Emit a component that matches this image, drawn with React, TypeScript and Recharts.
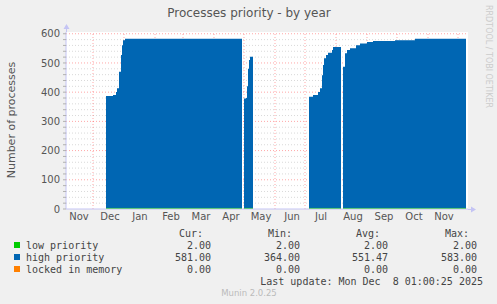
import { AreaChart, Area, XAxis, YAxis, CartesianGrid, ReferenceLine } from 'recharts'

// x is days since Nov 4 2024 (left edge of the graph), one point per change in the value
const DAYS = [
  40, 47, 50, 51, 53, 55, 56, 57, 59, 176,
  177,
  178, 180, 181, 182, 183, 184, 187,
  188,
  243, 247, 252, 254, 256, 257, 258, 260, 262, 266, 267, 275,
  276,
  277, 279, 281, 284, 290, 294, 301, 307, 329, 349, 400,
]
const HIGH_PRIORITY = [
  387, 390, 401, 413, 470, 527, 561, 578, 583, 583,
  null,
  378, 380, 420, 480, 510, 521, 523,
  null,
  384, 390, 401, 413, 458, 493, 516, 527, 535, 544, 555, 556,
  null,
  487, 533, 544, 550, 561, 567, 572, 575, 578, 583, 581,
]
const LOW_PRIORITY = [
  2, 2, 2, 2, 2, 2, 2, 2, 2, 2,
  null,
  2, 2, 2, 2, 2, 2, 2,
  null,
  2, 2, 2, 2, 2, 2, 2, 2, 2, 2, 2, 2,
  null,
  2, 2, 2, 2, 2, 2, 2, 2, 2, 2, 2,
]

const MONTH_STARTS = [27, 58, 89, 117, 148, 178, 209, 239, 270, 301, 331, 362, 392]
const LABEL_DAYS = [13, 44, 74, 105, 135, 165, 195, 226, 255, 287, 318, 348, 378]
const MONTH_LABELS = ['Nov', 'Dec', 'Jan', 'Feb', 'Mar', 'Apr', 'May', 'Jun', 'Jul', 'Aug', 'Sep', 'Oct', 'Nov']

const Y_TICKS = [0, 20, 40, 60, 80, 100, 120, 140, 160, 180, 200, 220, 240, 260, 280, 300, 320, 340, 360, 380, 400, 420, 440, 460, 480, 500, 520, 540, 560, 580, 600]
const MAJOR_Y = [100, 200, 300, 400, 500, 600]

const SERIES_NAMES = ['low priority', 'high priority', 'locked in memory']
const SERIES_COLORS = ['#00cc00', '#0066b3', '#ff8000']
const CUR = ['2.00', '581.00', '0.00']
const MIN = ['2.00', '364.00', '0.00']
const AVG = ['2.00', '551.47', '0.00']
const MAX = ['2.00', '583.00', '0.00']

const data = DAYS.map((day, i) => ({ day, high: HIGH_PRIORITY[i], low: LOW_PRIORITY[i] }))

const AXIS = '#c4c4f4'
const TEXT = '#555'
const MONO = '"DejaVu Sans Mono", monospace'
// keep the dotted grid under the filled areas
const GRID_Z = 50

export default function App() {
  const minorY = Y_TICKS.filter((v) => v > 0 && v % 100 !== 0)

  return (
    <div
      style={{
        position: 'absolute',
        left: 0,
        top: 0,
        width: 497,
        height: 304,
        background: '#f0f0f0',
        fontFamily: '"DejaVu Sans", sans-serif',
      }}
    >
      <AreaChart width={497} height={304} data={data} margin={{ top: 32, right: 29, left: 0, bottom: 65 }}>
        <CartesianGrid horizontal={false} vertical={false} fill="#ffffff" stroke="none" />
        <XAxis
          type="number"
          dataKey="day"
          domain={[0, 402]}
          allowDataOverflow
          ticks={LABEL_DAYS}
          tickFormatter={(_v: number, i: number) => MONTH_LABELS[i]}
          interval={0}
          height={30}
          tickLine={false}
          tickSize={2}
          tickMargin={2}
          axisLine={{ stroke: AXIS }}
          tick={{ fill: TEXT, fontSize: 10 }}
        />
        <YAxis
          type="number"
          domain={[0, 606]}
          allowDataOverflow
          ticks={Y_TICKS}
          interval={0}
          tickFormatter={(v: number) => (v % 100 === 0 ? String(v) : '')}
          width={66}
          tickSize={3}
          tickMargin={3}
          tickLine={{ stroke: '#b0b0b0' }}
          axisLine={{ stroke: AXIS }}
          tick={{ fill: TEXT, fontSize: 10 }}
        />
        {minorY.map((v) => (
          <ReferenceLine key={'m' + v} y={v} zIndex={GRID_Z} stroke="#808080" strokeOpacity={0.3} strokeDasharray="1 2" />
        ))}
        {MAJOR_Y.map((v) => (
          <ReferenceLine key={'M' + v} y={v} zIndex={GRID_Z} stroke="#ff0000" strokeOpacity={0.35} strokeDasharray="1 2" />
        ))}
        {MONTH_STARTS.map((d) => (
          <ReferenceLine key={'d' + d} x={d} zIndex={GRID_Z} stroke="#ff0000" strokeOpacity={0.35} strokeDasharray="1 2" />
        ))}
        <Area
          type="stepAfter"
          dataKey="high"
          stroke="none"
          fill="#0066b3"
          fillOpacity={1}
          dot={false}
          activeDot={false}
          isAnimationActive={false}
        />
        <Area
          type="stepAfter"
          dataKey="low"
          stroke="#00cc00"
          strokeWidth={1}
          fill="#00cc00"
          fillOpacity={1}
          dot={false}
          activeDot={false}
          isAnimationActive={false}
        />
      </AreaChart>

      <svg width={497} height={304} style={{ position: 'absolute', left: 0, top: 0, pointerEvents: 'none' }}>
        {/* axis arrows */}
        <line x1={66.5} y1={32} x2={66.5} y2={26} stroke={AXIS} />
        <polygon points="63.5,29 69.5,29 66.5,24" fill={AXIS} />
        <line x1={468} y1={209.5} x2={472} y2={209.5} stroke={AXIS} />
        <polygon points="471,206.5 471,212.5 476,209.5" fill={AXIS} />

        <text x={249} y={17} textAnchor="middle" fontSize={12} fill={TEXT}>
          Processes priority - by year
        </text>
        <text x={15} y={120} textAnchor="middle" fontSize={11} fill={TEXT} transform="rotate(-90 15 120)">
          Number of processes
        </text>
        <text x={486} y={5} fontSize={8} fill="#cccccc" transform="rotate(90 486 5)">
          RRDTOOL / TOBI OETIKER
        </text>

        <g fontFamily={MONO} fontSize={10} fill="#444">
          <text x={203} y={237} textAnchor="end">Cur:</text>
          <text x={292} y={237} textAnchor="end">Min:</text>
          <text x={380} y={237} textAnchor="end">Avg:</text>
          <text x={469} y={237} textAnchor="end">Max:</text>
          {SERIES_NAMES.map((name, i) => {
            const y = 248.5 + i * 12
            return (
              <g key={name}>
                <rect x={14} y={y - 6.5} width={6} height={6} fill={SERIES_COLORS[i]} />
                <text x={26} y={y}>{name}</text>
                <text x={211} y={y} textAnchor="end">{CUR[i]}</text>
                <text x={300} y={y} textAnchor="end">{MIN[i]}</text>
                <text x={388} y={y} textAnchor="end">{AVG[i]}</text>
                <text x={477} y={y} textAnchor="end">{MAX[i]}</text>
              </g>
            )
          })}
          <text x={483} y={284.5} textAnchor="end" style={{ whiteSpace: 'pre' }}>
            {'Last update: Mon Dec  8 01:00:25 2025'}
          </text>
        </g>
        <text x={249} y={296} textAnchor="middle" fontSize={8.5} fill="#bbbbbb">
          Munin 2.0.25
        </text>
      </svg>
    </div>
  )
}
